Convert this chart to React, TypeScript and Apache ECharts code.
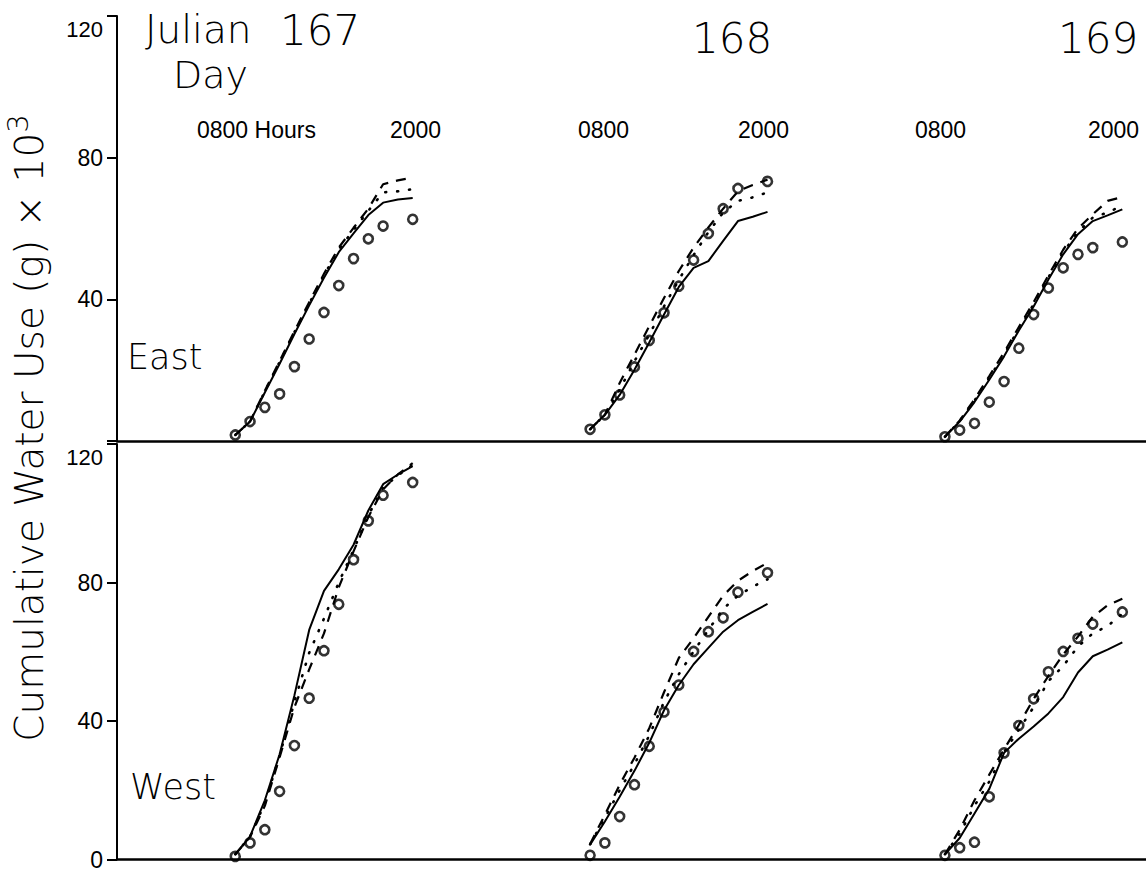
import React, { useEffect, useRef } from "react";
import * as echarts from "echarts";

// Hours of each Julian day at which values were read (0800 .. 2000)
const hours = [8, 9, 10, 11, 12, 13, 14, 15, 16, 17, 18, 19, 20];
const days = ["167", "168", "169"];
const dayOffsets = [0, 24, 48];
const yTicks = [0, 40, 80, 120];

// East (top panel)
const east167Solid = [1.7, 5.5, 13.7, 21.8, 30.2, 38.3, 46.1, 53.3, 58.6, 63.8, 67.3, 68.2, 68.6];
const east167Dashed = [1.7, 5.5, 14.2, 22.6, 31.0, 39.2, 47.2, 54.6, 60.2, 65.6, 72.5, 73.6, 74.4];
const east167Dotted = [1.7, 5.5, 14.0, 22.3, 30.7, 38.8, 46.8, 54.1, 59.6, 65.0, 70.2, 70.5, 71.1];
const east167Circles = [1.7, 5.5, 9.5, 13.3, 21.0, 28.8, 36.3, 43.9, 51.5, 57.1, 60.7, null, 62.6];

const east168Solid = [3.3, 7.4, 13.0, 20.1, 27.8, 35.7, 43.5, 48.9, 50.8, 56.5, 62.1, 63.3, 64.7];
const east168Dashed = [3.3, 7.4, 16.4, 24.4, 32.4, 40.4, 48.0, 54.6, 60.3, 65.6, 70.5, 72.3, 73.8];
const east168Dotted = [3.3, 7.4, 14.5, 22.5, 30.0, 38.0, 45.5, 52.5, 59.0, 64.5, 67.8, 68.8, 70.2];
const east168Circles = [3.3, 7.4, 13.0, 20.9, 28.4, 36.2, 43.7, 51.1, 58.6, 65.6, 71.3, null, 73.3];

const east169Solid = [1.2, 5.5, 11.0, 17.3, 23.9, 31.2, 38.0, 45.6, 52.7, 58.4, 62.1, 63.7, 65.4];
const east169Dashed = [1.2, 5.8, 11.8, 18.3, 25.0, 32.2, 39.2, 46.8, 54.0, 60.0, 64.0, 67.8, 68.9];
const east169Dotted = [1.2, 5.6, 11.4, 17.8, 24.5, 31.7, 38.6, 46.2, 53.3, 59.0, 63.1, 64.5, 66.5];
const east169Circles = [1.2, 3.1, 5.0, 11.0, 16.8, 26.2, 35.7, 43.2, 48.9, 52.7, 54.6, null, 56.2];

// West (bottom panel)
const west167Solid = [1.5, 6.7, 17.1, 30.4, 47.4, 66.3, 77.6, 83.8, 90.9, 100.8, 108.4, 111.2, 113.6];
const west167Dashed = [1.5, 6.5, 15.5, 29.5, 44.0, 54.9, 65.3, 78.6, 89.0, 98.9, 106.9, 111.2, 114.5];
const west167Dotted = [1.5, 6.6, 16.3, 30.0, 45.5, 59.7, 69.6, 80.0, 89.4, 99.4, 107.4, 110.9, 114.0];
const west167Circles = [0.9, 4.8, 8.6, 19.7, 32.9, 46.6, 60.3, 73.7, 86.6, 97.8, 105.2, null, 108.9];

const west168Solid = [4.3, 11.0, 18.1, 25.6, 33.7, 43.1, 50.4, 56.4, 61.1, 65.8, 69.1, 71.5, 73.8];
const west168Dashed = [4.5, 12.9, 21.6, 29.4, 37.9, 48.3, 58.2, 63.9, 70.1, 76.2, 80.5, 83.3, 85.7];
const west168Dotted = [4.4, 12.0, 20.0, 27.5, 35.8, 45.5, 53.5, 60.1, 66.3, 72.4, 76.2, 78.8, 80.9];
const west168Circles = [1.2, 4.8, 12.4, 21.6, 32.7, 42.6, 50.4, 60.1, 65.8, 69.8, 77.2, null, 82.8];

const west169Solid = [1.5, 6.2, 13.3, 20.4, 30.8, 34.9, 38.4, 42.2, 46.9, 54.0, 58.7, 60.6, 62.7];
const west169Dashed = [1.5, 8.6, 17.1, 24.5, 31.8, 38.9, 46.4, 53.0, 59.2, 64.4, 70.1, 73.4, 75.3];
const west169Dotted = [1.5, 7.5, 15.5, 22.5, 31.0, 37.5, 44.0, 51.5, 55.9, 61.5, 65.3, 67.4, 71.0];
const west169Circles = [1.2, 3.4, 5.0, 18.1, 30.8, 38.7, 46.4, 54.2, 60.1, 63.9, 68.0, null, 71.5];

const panels = [
  {
    name: "East",
    days: [
      [east167Solid, east167Dashed, east167Dotted, east167Circles],
      [east168Solid, east168Dashed, east168Dotted, east168Circles],
      [east169Solid, east169Dashed, east169Dotted, east169Circles],
    ],
  },
  {
    name: "West",
    days: [
      [west167Solid, west167Dashed, west167Dotted, west167Circles],
      [west168Solid, west168Dashed, west168Dotted, west168Circles],
      [west169Solid, west169Dashed, west169Dotted, west169Circles],
    ],
  },
];

const THIN = "'DejaVu Sans', sans-serif";
const TICKF = "'Liberation Sans', Arial, sans-serif";

function toPairs(vals: (number | null)[], offset: number) {
  const out: number[][] = [];
  vals.forEach((v, i) => {
    if (v !== null) out.push([hours[i] + offset, v]);
  });
  return out;
}

export default function App() {
  const ref = useRef<HTMLDivElement>(null);
  useEffect(() => {
    if (!ref.current) return;
    const chart = echarts.init(ref.current, null, { renderer: "svg" });

    const series: any[] = [];
    panels.forEach((panel, pi) => {
      panel.days.forEach((d, di) => {
        const off = dayOffsets[di];
        const [solid, dashed, dotted, circles] = d;
        series.push({
          type: "line",
          xAxisIndex: pi,
          yAxisIndex: pi,
          data: toPairs(solid, off),
          showSymbol: false,
          symbol: "none",
          lineStyle: { color: "#000", width: 2, type: "solid" },
          z: 3,
        });
        series.push({
          type: "line",
          xAxisIndex: pi,
          yAxisIndex: pi,
          data: toPairs(dashed, off),
          showSymbol: false,
          symbol: "none",
          lineStyle: { color: "#000", width: 2.2, type: [10, 8] },
          z: 3,
        });
        series.push({
          type: "line",
          xAxisIndex: pi,
          yAxisIndex: pi,
          data: toPairs(dotted, off),
          showSymbol: false,
          symbol: "none",
          lineStyle: { color: "#000", width: 2.6, type: [1, 11], cap: "round" },
          z: 3,
        });
        series.push({
          type: "scatter",
          xAxisIndex: pi,
          yAxisIndex: pi,
          data: toPairs(circles, off),
          symbol: "circle",
          symbolSize: 9,
          itemStyle: { color: "rgba(0,0,0,0)", borderColor: "#000", borderWidth: 2.6 },
          z: 4,
        });
      });
    });

    const yAxisFor = (pi: number) => ({
      type: "value",
      gridIndex: pi,
      min: 0,
      max: 120,
      interval: 40,
      axisLine: { show: true, onZero: false, lineStyle: { color: "#000", width: 2 } },
      axisTick: { show: true, length: 10, lineStyle: { color: "#000", width: 2 } },
      splitLine: { show: false },
      axisLabel: {
        color: "#000",
        fontSize: 22,
        fontFamily: TICKF,
        margin: 14,
        formatter: (v: number) => {
          if (pi === 0 && v === yTicks[0]) return "";
          if (v === yTicks[3]) return "{low|" + v + "}";
          return "{n|" + v + "}";
        },
        rich: {
          n: { fontSize: 23, fontFamily: TICKF, color: "#000" },
          low: { fontSize: 22, fontFamily: TICKF, color: "#000", padding: [26, 0, 0, 0] },
        },
      },
    });

    const xAxisFor = (pi: number) => ({
      type: "value",
      gridIndex: pi,
      min: 0,
      max: 69.6,
      axisLine: { show: true, onZero: false, lineStyle: { color: "#000", width: 2.5 } },
      axisTick: { show: false },
      axisLabel: { show: false },
      splitLine: { show: false },
    });

    const txt = (text: string, x: number, y: number, size: number, family: string, align = "left") => ({
      type: "text",
      x,
      y,
      style: {
        text,
        fontSize: size,
        fontFamily: family,
        fontWeight: family === THIN ? 200 : "normal",
        fill: "#000",
        align,
        verticalAlign: "middle",
      },
    });

    chart.setOption({
      animation: false,
      backgroundColor: "#fff",
      grid: [
        { left: 117, right: 0, top: 16, height: 425 },
        { left: 117, right: 0, top: 444, height: 423 },
      ],
      xAxis: [xAxisFor(0), xAxisFor(1)],
      yAxis: [yAxisFor(0), yAxisFor(1)],
      series,
      graphic: [
        txt("Julian", 145, 29, 39, THIN),
        txt("Day", 173, 75, 38, THIN),
        txt(days[0], 280, 30, 42, THIN),
        txt(days[1], 692, 38, 42, THIN),
        txt(days[2], 1058, 38, 42, THIN),
        txt("0800 Hours", 197, 130, 23, TICKF),
        txt("2000", 390, 130, 23, TICKF),
        txt("0800", 578, 130, 23, TICKF),
        txt("2000", 738, 130, 23, TICKF),
        txt("0800", 915, 130, 23, TICKF),
        txt("2000", 1088, 130, 23, TICKF),
        txt(panels[0].name, 127, 357, 35, THIN),
        txt(panels[1].name, 130, 787, 35, THIN),
        {
          type: "text",
          x: 26,
          y: 428,
          rotation: Math.PI / 2,
          style: {
            text: "{a|Cumulative Water Use (g) × 10}{b|3}",
            align: "center",
            verticalAlign: "middle",
            fill: "#000",
            rich: {
              a: { fontSize: 39, fontFamily: THIN, fontWeight: 200, fill: "#000", lineHeight: 46, verticalAlign: "bottom" },
              b: { fontSize: 29, fontFamily: THIN, fontWeight: 200, fill: "#000", verticalAlign: "top" },
            },
          },
        },
      ],
    });
    return () => chart.dispose();
  }, []);
  return (
    <div
      ref={ref}
      style={{ position: "absolute", left: 0, top: 0, width: 1146, height: 871, background: "#fff" }}
    />
  );
}
